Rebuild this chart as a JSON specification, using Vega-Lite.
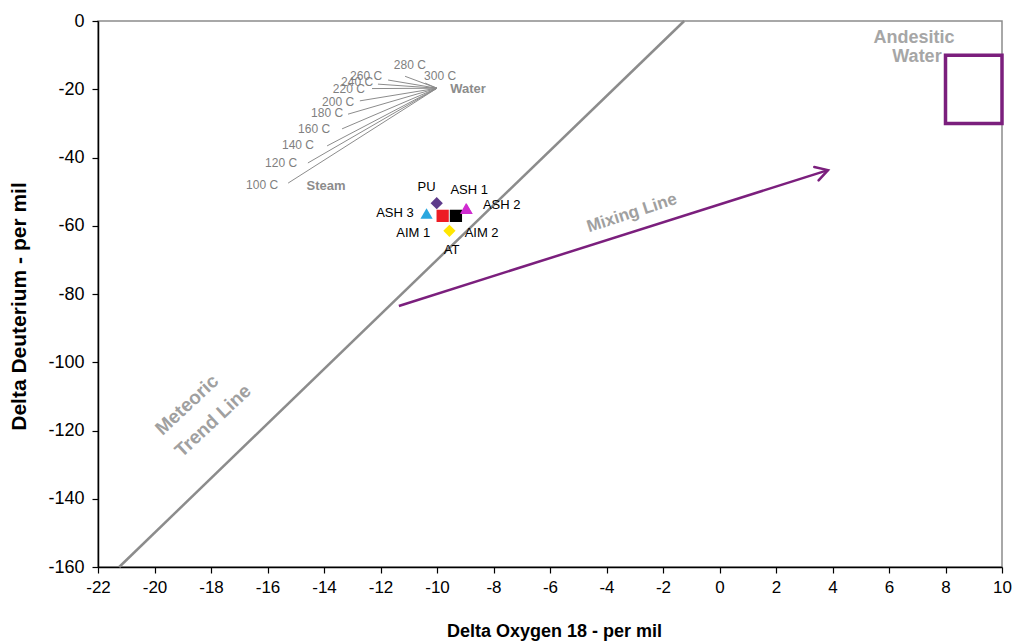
{
  "$schema": "https://vega.github.io/schema/vega-lite/v6.json",
  "width": 904,
  "height": 546,
  "autosize": "none",
  "padding": {"left": 98, "top": 21, "right": 10, "bottom": 77},
  "background": "white",
  "config": {
    "view": {"stroke": "#8c8c8c", "strokeWidth": 1.5},
    "font": "Liberation Sans",
    "text": {"font": "Liberation Sans"}
  },
  "datasets": {
    "meteoric": [{"x": -21.25, "y": -160, "x2": -1.25, "y2": 0}],
    "fan": [
      {"temp": "100 C", "x": -15.27, "y": -47.5, "x2": -10.0, "y2": -19.7},
      {"temp": "120 C", "x": -14.57, "y": -41.6, "x2": -10.0, "y2": -19.7},
      {"temp": "140 C", "x": -13.89, "y": -36.6, "x2": -10.0, "y2": -19.7},
      {"temp": "160 C", "x": -13.36, "y": -31.6, "x2": -10.0, "y2": -19.7},
      {"temp": "180 C", "x": -13.15, "y": -27.3, "x2": -10.0, "y2": -19.7},
      {"temp": "200 C", "x": -12.73, "y": -23.4, "x2": -10.0, "y2": -19.7},
      {"temp": "220 C", "x": -12.3, "y": -19.8, "x2": -10.0, "y2": -19.7},
      {"temp": "240 C", "x": -12.09, "y": -18.5, "x2": -10.0, "y2": -19.7},
      {"temp": "260 C", "x": -11.73, "y": -17.3, "x2": -10.0, "y2": -19.7},
      {"temp": "280 C", "x": -11.13, "y": -16.2, "x2": -10.0, "y2": -19.7},
      {"temp": "300 C", "x": -10.42, "y": -18.2, "x2": -10.0, "y2": -19.7}
    ],
    "fanLabels": [
      {"t": "100 C", "x": -16.19, "y": -48.1},
      {"t": "120 C", "x": -15.52, "y": -41.6},
      {"t": "140 C", "x": -14.92, "y": -36.3},
      {"t": "160 C", "x": -14.35, "y": -31.6},
      {"t": "180 C", "x": -13.89, "y": -27.0},
      {"t": "200 C", "x": -13.5, "y": -23.7},
      {"t": "220 C", "x": -13.12, "y": -19.9},
      {"t": "240 C", "x": -12.83, "y": -17.9},
      {"t": "260 C", "x": -12.51, "y": -16.1},
      {"t": "280 C", "x": -10.96, "y": -12.9},
      {"t": "300 C", "x": -9.89, "y": -16.1}
    ],
    "fanTitles": [
      {"t": "Steam", "x": -13.93, "y": -48.4},
      {"t": "Water", "x": -8.9, "y": -19.9}
    ],
    "mixing": [{"x": -11.35, "y": -83.5, "x2": 3.84, "y2": -43.7}],
    "arrowhead": [
      {"o": 1, "x": 3.355, "y": -42.8},
      {"o": 2, "x": 3.84, "y": -43.7},
      {"o": 3, "x": 3.507, "y": -46.7}
    ],
    "box": [{"x": 8, "x2": 10, "y": -10, "y2": -30}],
    "grayLabels": [
      {"t": "Andesitic", "x": 6.885, "y": -5.0},
      {"t": "Water", "x": 6.99, "y": -10.6}
    ],
    "meteoricLabels": [
      {"t": "Meteoric", "x": -18.85, "y": -112.5},
      {"t": "Trend Line", "x": -17.93, "y": -117.2}
    ],
    "mixingLabel": [{"t": "Mixing Line", "x": -3.1, "y": -56.3}],
    "samples": [
      {"sample": "PU", "x": -10.01, "y": -53.4},
      {"sample": "ASH 3", "x": -10.37, "y": -56.4},
      {"sample": "AIM 1", "x": -9.8, "y": -57.1},
      {"sample": "AIM 2", "x": -9.33, "y": -57.1},
      {"sample": "ASH 2", "x": -8.95, "y": -55.0},
      {"sample": "ASH 1", "x": -8.97, "y": -54.9},
      {"sample": "AT", "x": -9.56, "y": -61.5}
    ],
    "sampleLabels": [
      {"t": "PU", "x": -10.37, "y": -48.6},
      {"t": "ASH 1", "x": -8.86, "y": -49.5},
      {"t": "ASH 2", "x": -7.71, "y": -53.9},
      {"t": "ASH 3", "x": -11.49, "y": -56.3},
      {"t": "AIM 1", "x": -10.84, "y": -62.0},
      {"t": "AIM 2", "x": -8.42, "y": -62.0},
      {"t": "AT", "x": -9.48, "y": -67.1}
    ]
  },
  "layer": [
    {
      "data": {"name": "meteoric"},
      "mark": {"type": "rule", "color": "#8c8c8c", "strokeWidth": 2.5},
      "encoding": {
        "x": {
          "field": "x", "type": "quantitative",
          "scale": {"domain": [-22, 10], "nice": false, "zero": false},
          "axis": {
            "values": [-22, -20, -18, -16, -14, -12, -10, -8, -6, -4, -2, 0, 2, 4, 6, 8, 10],
            "labelExpr": "'' + datum.value",
            "grid": false,
            "domainColor": "black", "domainWidth": 1.5,
            "tickColor": "black", "tickWidth": 1.2, "tickSize": 6,
            "labelFont": "Liberation Sans", "labelFontSize": 17, "labelColor": "black",
            "labelPadding": 6, "labelFlush": false, "labelOverlap": false,
            "title": "Delta Oxygen 18 - per mil",
            "titleFont": "Liberation Sans", "titleFontSize": 18, "titleFontWeight": "bold",
            "titleColor": "black", "titleX": 456, "titleY": 64, "titleBaseline": "middle"
          }
        },
        "y": {
          "field": "y", "type": "quantitative",
          "scale": {"domain": [-160, 0], "nice": false, "zero": false},
          "axis": {
            "values": [-160, -140, -120, -100, -80, -60, -40, -20, 0],
            "labelExpr": "'' + datum.value",
            "grid": false,
            "domainColor": "black", "domainWidth": 1.5,
            "tickColor": "black", "tickWidth": 1.2, "tickSize": 6,
            "labelFont": "Liberation Sans", "labelFontSize": 18, "labelColor": "black",
            "labelPadding": 8, "labelFlush": false, "labelOverlap": false,
            "title": "Delta Deuterium - per mil",
            "titleFont": "Liberation Sans", "titleFontSize": 21, "titleFontWeight": "bold",
            "titleColor": "black", "titleX": -79, "titleY": 285, "titleBaseline": "middle"
          }
        },
        "x2": {"field": "x2"},
        "y2": {"field": "y2"}
      }
    },
    {
      "data": {"name": "fan"},
      "mark": {"type": "rule", "color": "#8c8c8c", "strokeWidth": 1},
      "encoding": {
        "x": {"field": "x", "type": "quantitative"},
        "y": {"field": "y", "type": "quantitative"},
        "x2": {"field": "x2"},
        "y2": {"field": "y2"}
      }
    },
    {
      "data": {"name": "fanLabels"},
      "mark": {"type": "text", "color": "#7f7f7f", "fontSize": 12, "align": "center", "baseline": "middle"},
      "encoding": {
        "x": {"field": "x", "type": "quantitative"},
        "y": {"field": "y", "type": "quantitative"},
        "text": {"field": "t"}
      }
    },
    {
      "data": {"name": "fanTitles"},
      "mark": {"type": "text", "color": "#8c8c8c", "fontSize": 13, "fontWeight": "bold", "align": "center", "baseline": "middle"},
      "encoding": {
        "x": {"field": "x", "type": "quantitative"},
        "y": {"field": "y", "type": "quantitative"},
        "text": {"field": "t"}
      }
    },
    {
      "data": {"name": "mixing"},
      "mark": {"type": "rule", "color": "#7b1f7d", "strokeWidth": 2.5},
      "encoding": {
        "x": {"field": "x", "type": "quantitative"},
        "y": {"field": "y", "type": "quantitative"},
        "x2": {"field": "x2"},
        "y2": {"field": "y2"}
      }
    },
    {
      "data": {"name": "arrowhead"},
      "mark": {"type": "line", "color": "#7b1f7d", "strokeWidth": 2.5, "strokeJoin": "miter", "strokeCap": "round"},
      "encoding": {
        "x": {"field": "x", "type": "quantitative"},
        "y": {"field": "y", "type": "quantitative"},
        "order": {"field": "o"}
      }
    },
    {
      "data": {"name": "box"},
      "mark": {"type": "rect", "fill": null, "fillOpacity": 0, "stroke": "#7b1f7d", "strokeWidth": 3.5},
      "encoding": {
        "x": {"field": "x", "type": "quantitative"},
        "x2": {"field": "x2"},
        "y": {"field": "y", "type": "quantitative"},
        "y2": {"field": "y2"}
      }
    },
    {
      "data": {"name": "grayLabels"},
      "mark": {"type": "text", "color": "#a6a6a6", "fontSize": 18, "fontWeight": "bold", "align": "center", "baseline": "middle"},
      "encoding": {
        "x": {"field": "x", "type": "quantitative"},
        "y": {"field": "y", "type": "quantitative"},
        "text": {"field": "t"}
      }
    },
    {
      "data": {"name": "meteoricLabels"},
      "mark": {"type": "text", "color": "#a0a0a0", "fontSize": 19, "fontWeight": "bold", "align": "center", "baseline": "middle", "angle": -43},
      "encoding": {
        "x": {"field": "x", "type": "quantitative"},
        "y": {"field": "y", "type": "quantitative"},
        "text": {"field": "t"}
      }
    },
    {
      "data": {"name": "mixingLabel"},
      "mark": {"type": "text", "color": "#a0a0a0", "fontSize": 17, "fontWeight": "bold", "align": "center", "baseline": "middle", "angle": -18},
      "encoding": {
        "x": {"field": "x", "type": "quantitative"},
        "y": {"field": "y", "type": "quantitative"},
        "text": {"field": "t"}
      }
    },
    {
      "data": {"name": "samples"},
      "mark": {"type": "point", "filled": true, "opacity": 1, "size": 150, "strokeWidth": 0},
      "encoding": {
        "x": {"field": "x", "type": "quantitative"},
        "y": {"field": "y", "type": "quantitative"},
        "shape": {
          "field": "sample", "type": "nominal", "legend": null,
          "scale": {
            "domain": ["PU", "ASH 3", "AIM 1", "AIM 2", "ASH 2", "ASH 1", "AT"],
            "range": ["diamond", "triangle-up", "square", "square", "triangle-up", "triangle-up", "diamond"]
          }
        },
        "color": {
          "field": "sample", "type": "nominal", "legend": null,
          "scale": {
            "domain": ["PU", "ASH 3", "AIM 1", "AIM 2", "ASH 2", "ASH 1", "AT"],
            "range": ["#5e3b8b", "#2aa7df", "#ed1c24", "#000000", "#cc33cc", "#d02bd0", "#ffe600"]
          }
        }
      }
    },
    {
      "data": {"name": "sampleLabels"},
      "mark": {"type": "text", "color": "black", "fontSize": 13, "align": "center", "baseline": "middle"},
      "encoding": {
        "x": {"field": "x", "type": "quantitative"},
        "y": {"field": "y", "type": "quantitative"},
        "text": {"field": "t"}
      }
    }
  ]
}
